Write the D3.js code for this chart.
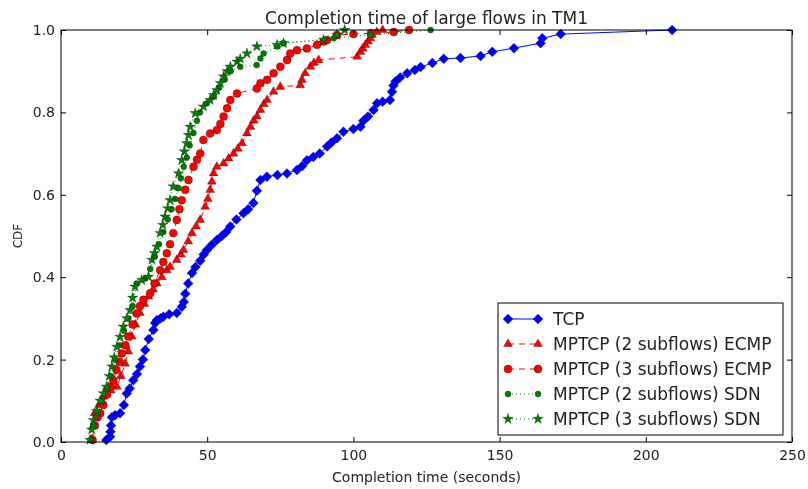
<!DOCTYPE html>
<html>
<head>
<meta charset="utf-8">
<script src="https://cdn.jsdelivr.net/npm/d3@7"></script>
<style>
  body { margin: 0; background: #fff; }
  svg { display: block; font-family: "DejaVu Sans", sans-serif; filter: blur(0.5px); }
</style>
</head>
<body>
<div id="chart"></div>
<script>
// completion time (s) vs CDF
var tcpPoints = [[15.5,0.005],[16.8,0.013],[16.9,0.025],[17.1,0.04],[17.4,0.06],[18.5,0.065],[20.2,0.07],[21.5,0.09],[22.5,0.118],[23.5,0.13],[24.7,0.15],[26,0.165],[27,0.183],[28,0.2],[28.8,0.223],[30,0.25],[31.6,0.272],[32.2,0.289],[32.8,0.296],[34,0.3],[35,0.304],[37,0.31],[39.6,0.313],[41.3,0.328],[42,0.34],[42.5,0.36],[43.5,0.385],[44.8,0.41],[46,0.425],[47.6,0.44],[48.8,0.455],[49.9,0.466],[51.5,0.478],[53.3,0.49],[55,0.5],[56.5,0.51],[57.9,0.523],[60,0.54],[62.4,0.555],[64,0.565],[65.8,0.58],[67,0.61],[68.2,0.636],[70.4,0.644],[74,0.648],[77.3,0.652],[80.7,0.66],[82.5,0.67],[84.1,0.684],[86.3,0.692],[88.5,0.7],[91,0.717],[92.5,0.727],[94.4,0.737],[96.6,0.753],[100,0.76],[102.4,0.765],[103.4,0.78],[105,0.79],[106.9,0.806],[108.1,0.822],[110,0.826],[112.5,0.83],[113.2,0.85],[113.7,0.865],[114.4,0.875],[116,0.885],[118.4,0.895],[121,0.903],[123,0.91],[127,0.92],[130.9,0.93],[136.6,0.932],[143.5,0.937],[147.5,0.947],[154.9,0.956],[164,0.968],[164.6,0.98],[170.9,0.99],[209,1.0]];

var ecmp2Points = [[10.5,0.005],[11.1,0.04],[11.5,0.07],[13,0.09],[14.5,0.11],[17,0.125],[19.1,0.134],[20.5,0.16],[21.9,0.19],[23,0.22],[24.2,0.256],[25.5,0.285],[27,0.313],[28.5,0.335],[29.9,0.353],[31.5,0.37],[32.8,0.385],[34.5,0.4],[36.2,0.417],[37.3,0.425],[39.6,0.442],[41,0.455],[41.9,0.466],[43.5,0.487],[44.8,0.507],[46.2,0.523],[47.6,0.539],[49.3,0.571],[50.2,0.59],[51,0.612],[51.6,0.632],[52.2,0.652],[53.3,0.668],[55.6,0.676],[57.3,0.688],[59,0.7],[60.5,0.712],[61.9,0.725],[63.6,0.749],[64.8,0.765],[65.9,0.78],[67,0.79],[68.2,0.806],[69.4,0.82],[70.5,0.83],[72.7,0.85],[75,0.862],[81.8,0.866],[82.4,0.879],[83.5,0.895],[85.3,0.911],[86.5,0.92],[88.1,0.927],[101.3,0.935],[102.4,0.947],[103.2,0.955],[104.1,0.964],[105,0.972],[105.8,0.98],[106.4,0.988],[108,0.995],[110,1.0]];

var ecmp3Points = [[10.8,0.005],[11.6,0.04],[12.5,0.06],[13.4,0.07],[14.5,0.09],[15.8,0.115],[17,0.135],[17.9,0.15],[19,0.175],[20,0.195],[20.8,0.215],[22,0.235],[23,0.256],[24.5,0.285],[25.9,0.312],[27,0.33],[28.2,0.345],[30.5,0.361],[32,0.385],[33.9,0.417],[35,0.437],[36.2,0.458],[37.3,0.48],[38.4,0.507],[39.6,0.539],[40.5,0.565],[41.3,0.587],[42.5,0.612],[43.6,0.636],[45.3,0.668],[46.5,0.685],[47.6,0.7],[48.7,0.733],[51,0.749],[53.3,0.757],[54.5,0.772],[55.6,0.79],[56.8,0.81],[57.9,0.83],[60.2,0.846],[67,0.858],[68.2,0.871],[70.5,0.879],[72.7,0.895],[75,0.911],[77.3,0.927],[78.4,0.943],[80.7,0.951],[84.1,0.955],[87.6,0.964],[89.8,0.972],[91,0.976],[94.4,0.988],[100,0.99],[106,0.992],[113.8,0.995],[119,1.0]];

var sdn2Points = [[10.2,0.005],[11,0.04],[12.5,0.07],[14,0.1],[15.6,0.13],[17,0.16],[18.5,0.2],[20,0.235],[21.5,0.27],[23,0.3],[24.5,0.33],[25.9,0.385],[28.8,0.397],[30.5,0.42],[32,0.45],[33.5,0.48],[35,0.51],[36.5,0.54],[37.8,0.565],[39,0.59],[40.2,0.616],[41,0.64],[42,0.668],[43,0.69],[44,0.72],[45.3,0.75],[46.5,0.78],[47.5,0.8],[49.9,0.822],[52.2,0.838],[54,0.86],[56,0.88],[58,0.9],[61.3,0.911],[66.9,0.915],[68.2,0.931],[69.3,0.943],[73.9,0.96],[76.1,0.968],[93.3,0.98],[105.8,0.988],[126.4,1.0]];

var sdn3Points = [[9.9,0.005],[10.5,0.03],[11.1,0.053],[12.2,0.075],[13.4,0.1],[14.5,0.118],[15.6,0.134],[16.5,0.16],[17.4,0.183],[18.2,0.205],[19.1,0.231],[20.2,0.255],[21.3,0.28],[22.5,0.3],[23.6,0.32],[24.5,0.35],[25.3,0.377],[27.6,0.393],[29.9,0.401],[31.1,0.442],[32,0.458],[32.8,0.474],[33.9,0.507],[34.8,0.527],[35.6,0.547],[36.5,0.567],[37.3,0.587],[38.4,0.62],[40.2,0.652],[41.3,0.684],[42.2,0.705],[43,0.725],[43.6,0.745],[44.2,0.765],[45.9,0.798],[48.7,0.814],[51,0.83],[52.2,0.842],[53.3,0.854],[54.5,0.871],[55.6,0.887],[56.8,0.9],[57.9,0.911],[60.2,0.923],[61.3,0.93],[63.6,0.943],[67,0.96],[73.9,0.964],[76.1,0.968],[89.8,0.976],[94.4,0.988],[97,1.0]];

var seriesNames = ["TCP", "MPTCP (2 subflows) ECMP", "MPTCP (3 subflows) ECMP", "MPTCP (2 subflows) SDN", "MPTCP (3 subflows) SDN"];
var xTicks = [0, 50, 100, 150, 200, 250];
var yTicks = [0, 0.2, 0.4, 0.6, 0.8, 1.0];

var width = 808, height = 489;
var margin = {top: 30, right: 16, bottom: 47, left: 61};

var svg = d3.select("#chart").append("svg")
    .attr("width", width)
    .attr("height", height);

var x = d3.scaleLinear().domain([0, 250]).range([margin.left, width - margin.right]);
var y = d3.scaleLinear().domain([0, 1]).range([height - margin.bottom, margin.top]);

// diamond like matplotlib 'D'
var diamond = {
  draw: function(ctx, size) {
    var r = Math.sqrt(size) / 2;
    ctx.moveTo(0, -r); ctx.lineTo(r, 0); ctx.lineTo(0, r); ctx.lineTo(-r, 0); ctx.closePath();
  }
};

var series = [
  {name: seriesNames[0], pts: tcpPoints,   color: "#0000ff", dash: null,  sym: diamond,           size: 100, edge: 0.4},
  {name: seriesNames[1], pts: ecmp2Points, color: "#ff0000", dash: "6,5", sym: d3.symbolTriangle, size: 34, edge: 0.5},
  {name: seriesNames[2], pts: ecmp3Points, color: "#ff0000", dash: "6,5", sym: d3.symbolCircle,   size: 50, edge: 0.5},
  {name: seriesNames[3], pts: sdn2Points,  color: "#008000", dash: "1,3", sym: d3.symbolCircle,   size: 28, edge: 0.5},
  {name: seriesNames[4], pts: sdn3Points,  color: "#008000", dash: "1,3", sym: d3.symbolStar,     size: 34, edge: 0.5}
];

var line = d3.line().x(function(d) { return x(d[0]); }).y(function(d) { return y(d[1]); });

var plot = svg.append("g");

series.forEach(function(s) {
  plot.append("path")
    .datum(s.pts)
    .attr("d", line)
    .attr("fill", "none")
    .attr("stroke", s.color)
    .attr("stroke-width", 1)
    .attr("stroke-dasharray", s.dash);

  plot.selectAll(null)
    .data(s.pts)
    .enter().append("path")
    .attr("transform", function(d) { return "translate(" + x(d[0]) + "," + y(d[1]) + ")"; })
    .attr("d", d3.symbol().type(s.sym).size(s.size))
    .attr("fill", s.color)
    .attr("stroke", "#000")
    .attr("stroke-opacity", 0.6)
    .attr("stroke-width", s.edge);
});

// frame
svg.append("rect")
  .attr("x", x(0)).attr("y", y(1))
  .attr("width", x(250) - x(0)).attr("height", y(0) - y(1))
  .attr("fill", "none").attr("stroke", "#000").attr("stroke-width", 1);

// axes with inward ticks
var gx = svg.append("g").attr("transform", "translate(0," + y(0) + ")")
  .call(d3.axisBottom(x).tickValues(xTicks).tickFormat(d3.format("d")).tickSize(-5).tickPadding(8));
var gxt = svg.append("g").attr("transform", "translate(0," + y(1) + ")")
  .call(d3.axisTop(x).tickValues(xTicks).tickFormat("").tickSize(-5));
var gy = svg.append("g").attr("transform", "translate(" + x(0) + ",0)")
  .call(d3.axisLeft(y).tickValues(yTicks).tickFormat(d3.format(".1f")).tickSize(-5).tickPadding(6));
var gyr = svg.append("g").attr("transform", "translate(" + x(250) + ",0)")
  .call(d3.axisRight(y).tickValues(yTicks).tickFormat("").tickSize(-5));

[gx, gxt, gy, gyr].forEach(function(g) {
  g.select(".domain").remove();
  g.selectAll("text").attr("font-size", 14).attr("font-family", "DejaVu Sans, sans-serif").attr("fill", "#222");
  g.selectAll("line").attr("stroke", "#000");
});

// title and labels
svg.append("text")
  .attr("x", (x(0) + x(250)) / 2).attr("y", 24)
  .attr("text-anchor", "middle").attr("font-size", 17).attr("fill", "#222")
  .text("Completion time of large flows in TM1");

svg.append("text")
  .attr("x", (x(0) + x(250)) / 2).attr("y", 482)
  .attr("text-anchor", "middle").attr("font-size", 14).attr("fill", "#222")
  .text("Completion time (seconds)");

svg.append("text")
  .attr("transform", "translate(22," + (y(0.5)) + ") rotate(-90)")
  .attr("text-anchor", "middle").attr("font-size", 12).attr("fill", "#222")
  .text("CDF");

// legend
var lg = svg.append("g");
lg.append("rect")
  .attr("x", 498).attr("y", 303).attr("width", 285).attr("height", 132)
  .attr("fill", "#fff").attr("stroke", "#000").attr("stroke-width", 1);

series.forEach(function(s, i) {
  var ly = 319 + i * 25;
  lg.append("line")
    .attr("x1", 508).attr("x2", 538).attr("y1", ly).attr("y2", ly)
    .attr("stroke", s.color).attr("stroke-width", 1).attr("stroke-dasharray", s.dash);
  [508, 538].forEach(function(lx) {
    lg.append("path")
      .attr("transform", "translate(" + lx + "," + ly + ")")
      .attr("d", d3.symbol().type(s.sym).size(s.size))
      .attr("fill", s.color).attr("stroke", "#000").attr("stroke-opacity", 0.6).attr("stroke-width", s.edge);
  });
  lg.append("text")
    .attr("x", 553).attr("y", ly).attr("dy", "0.36em")
    .attr("font-size", 17).attr("fill", "#222")
    .text(s.name);
});
</script>
</body>
</html>
